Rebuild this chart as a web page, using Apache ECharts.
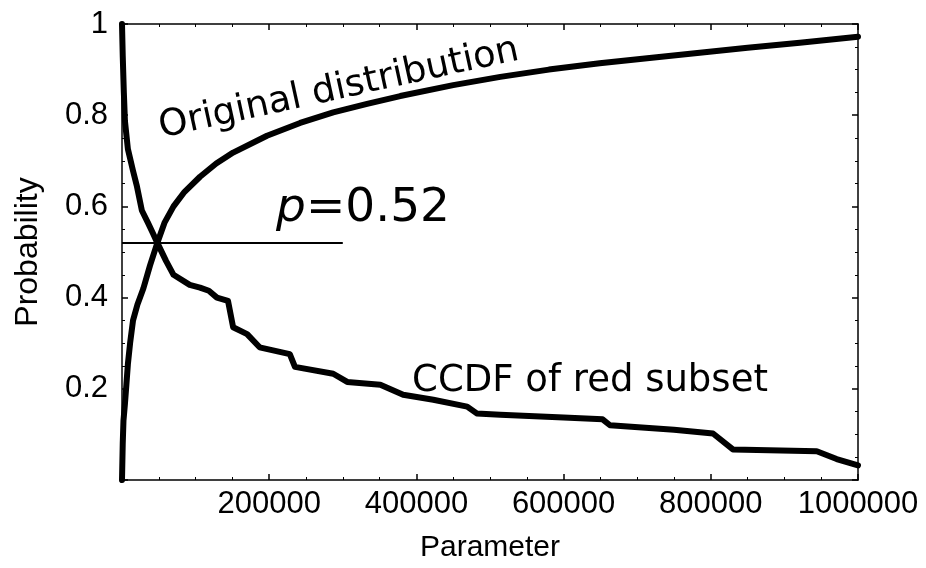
<!DOCTYPE html>
<html>
<head>
<meta charset="utf-8">
<script src="https://cdn.jsdelivr.net/npm/echarts@6/dist/echarts.min.js"></script>
<style>html,body{margin:0;padding:0;background:#fff;}#c{width:926px;height:568px;}</style>
</head>
<body>
<div id="c"></div>
<script>
// Original distribution (CDF): [parameter, probability]
const originalX = [0, 1000, 2000, 4000, 6000, 8000, 11000, 15000, 21000, 29000, 38000, 48000, 58000, 70000, 85000, 106000, 128000, 151000, 197000, 242000, 287000, 333000, 378000, 450000, 514000, 580000, 649000, 720000, 785000, 850000, 921000, 1000000];
const originalY = [0, 0.08, 0.13, 0.167, 0.21, 0.254, 0.3, 0.35, 0.385, 0.42, 0.47, 0.52, 0.565, 0.6, 0.632, 0.665, 0.694, 0.718, 0.755, 0.783, 0.806, 0.825, 0.842, 0.866, 0.884, 0.9, 0.914, 0.926, 0.937, 0.948, 0.959, 0.972];
// CCDF of red subset
const ccdfX = [0, 1000, 2500, 4000, 8000, 15000, 20000, 27000, 35000, 42000, 48000, 60000, 70000, 92000, 106000, 118000, 129000, 144000, 151000, 170000, 187000, 228000, 235000, 287000, 306000, 351000, 382000, 423000, 469000, 482000, 514000, 600000, 653000, 663000, 750000, 803000, 830000, 944000, 971000, 1000000];
const ccdfY = [1, 0.93, 0.85, 0.787, 0.726, 0.678, 0.646, 0.591, 0.565, 0.541, 0.52, 0.48, 0.45, 0.428, 0.422, 0.415, 0.4, 0.393, 0.335, 0.32, 0.291, 0.276, 0.248, 0.233, 0.215, 0.209, 0.187, 0.176, 0.161, 0.146, 0.143, 0.137, 0.133, 0.12, 0.11, 0.102, 0.067, 0.063, 0.046, 0.032];
// Threshold line p = 0.52
const pLineX = [0, 300000];
const pLineY = [0.52, 0.52];
const xTicks = [200000, 400000, 600000, 800000, 1000000];
const yTicks = [0.2, 0.4, 0.6, 0.8, 1];

const zip = (xs, ys) => xs.map((x, i) => [x, ys[i]]);
const chart = echarts.init(document.getElementById('c'));
const tickFont = {fontFamily: 'Liberation Sans', fontSize: 31, color: '#000'};
const frameAxis = (extra) => Object.assign({
  axisLine: {show: true, onZero: false, lineStyle: {color: '#000', width: 1.5}},
  axisTick: {show: true, inside: true, length: 6, lineStyle: {color: '#000', width: 1.5}},
  minorTick: {show: true, splitNumber: 4, length: 3, lineStyle: {color: '#000', width: 1}},
  splitLine: {show: false}
}, extra);

chart.setOption({
  animation: false,
  backgroundColor: '#fff',
  grid: {left: 122, right: 68, top: 24, bottom: 85},
  xAxis: [
    frameAxis({type: 'value', position: 'bottom', min: 0, max: 1000000, interval: 200000,
      name: 'Parameter', nameLocation: 'middle', nameGap: 53,
      nameTextStyle: {fontFamily: 'Liberation Sans', fontSize: 30, color: '#000'},
      axisLabel: Object.assign({margin: 9, showMinLabel: false,
        formatter: v => xTicks.includes(v) ? String(v) : ''}, tickFont)}),
    frameAxis({type: 'value', position: 'top', min: 0, max: 1000000, interval: 200000,
      axisLabel: {show: false}})
  ],
  yAxis: [
    frameAxis({type: 'value', position: 'left', min: 0, max: 1, interval: 0.2,
      name: 'Probability', nameLocation: 'middle', nameGap: 78,
      nameTextStyle: {fontFamily: 'Liberation Sans', fontSize: 32, color: '#000'},
      axisLabel: Object.assign({margin: 14, showMinLabel: false,
        formatter: v => yTicks.some(t => Math.abs(t - v) < 1e-9) ? String(+v.toFixed(1)) : ''}, tickFont)}),
    frameAxis({type: 'value', position: 'right', min: 0, max: 1, interval: 0.2,
      axisLabel: {show: false}})
  ],
  series: [
    {type: 'line', data: zip(pLineX, pLineY), symbol: 'none', lineStyle: {color: '#000', width: 2}, z: 3},
    {type: 'line', data: zip(originalX, originalY), symbol: 'none', smooth: false, lineStyle: {color: '#000', width: 6, join: 'round', cap: 'round'}, z: 4},
    {type: 'line', data: zip(ccdfX, ccdfY), symbol: 'none', smooth: false, lineStyle: {color: '#000', width: 6, join: 'round', cap: 'round'}, z: 4}
  ],
  graphic: [
    {type: 'text', x: 339, y: 89, rotation: 0.215, originX: 0, originY: 0,
      style: {text: 'Original distribution', fontFamily: 'DejaVu Sans', fontSize: 37, fill: '#000', align: 'center', verticalAlign: 'middle'}},
    {type: 'text', x: 363, y: 209,
      style: {text: '{i|p}=0.52', fontFamily: 'DejaVu Sans', fontSize: 47, fill: '#000', align: 'center', verticalAlign: 'middle',
        rich: {i: {fontStyle: 'italic', fontFamily: 'DejaVu Sans', fontSize: 47, fill: '#000'}}}},
    {type: 'text', x: 590, y: 381,
      style: {text: 'CCDF of red subset', fontFamily: 'DejaVu Sans', fontSize: 37, fill: '#000', align: 'center', verticalAlign: 'middle'}}
  ]
});
</script>
</body>
</html>
